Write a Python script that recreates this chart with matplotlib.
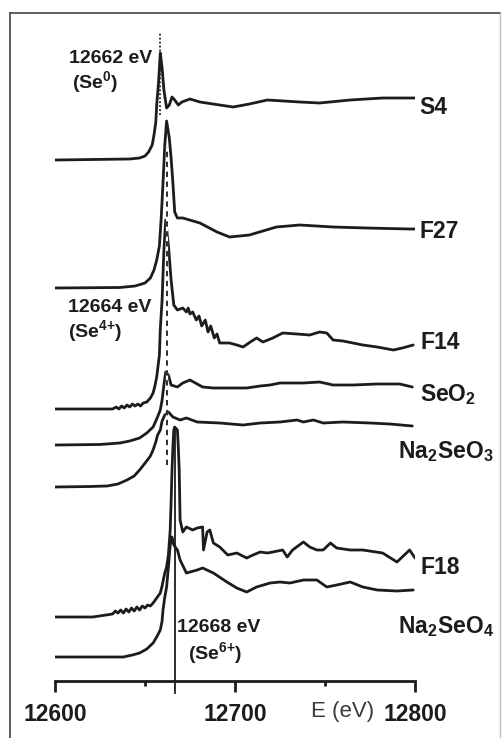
import numpy as np
import matplotlib.pyplot as plt

plt.rcParams['font.family'] = 'Liberation Sans'
plt.rcParams['mathtext.fontset'] = 'custom'
plt.rcParams['mathtext.rm'] = 'Liberation Sans:bold'
plt.rcParams['mathtext.it'] = 'Liberation Sans:bold'
plt.rcParams['mathtext.bf'] = 'Liberation Sans:bold'
plt.rcParams['mathtext.default'] = 'rm'

# Se K-edge XANES spectra, normalised (pre-edge = 0)
s4_e = [12600, 12641.5, 12647, 12650, 12652, 12654, 12655, 12656, 12656.5, 12657.5,
        12658.5, 12659.5, 12660.5, 12662, 12663.5, 12665, 12666.5, 12668.5, 12670.5, 12675,
        12680.5, 12691.5, 12699, 12708, 12718, 12736, 12747, 12764, 12782, 12800]
s4_mu = [0, 0.01, 0.02, 0.04, 0.08, 0.15, 0.25, 0.38, 0.55, 0.77,
         1.07, 0.92, 0.70, 0.52, 0.55, 0.63, 0.60, 0.55, 0.58, 0.61,
         0.58, 0.55, 0.53, 0.56, 0.60, 0.58, 0.57, 0.60, 0.62, 0.62]

f27_e = [12600, 12636, 12644.5, 12650, 12653, 12655, 12656.5, 12658, 12659, 12660,
         12661, 12662, 12663.5, 12664.5, 12665.5, 12666.5, 12668, 12671, 12680.5, 12690,
         12697, 12708, 12723, 12736, 12754.5, 12773, 12797, 12800]
f27_mu = [0, 0.005, 0.02, 0.05, 0.10, 0.18, 0.28, 0.42, 0.70, 1.05,
          1.43, 1.67, 1.50, 1.30, 1.05, 0.76, 0.70, 0.70, 0.65, 0.56,
          0.51, 0.53, 0.61, 0.63, 0.61, 0.60, 0.59, 0.59]

f14_e = [12600, 12632, 12634, 12635.5, 12637, 12638.5, 12640, 12641.5, 12643, 12644.5,
         12646, 12647.5, 12649, 12651, 12653, 12654.5, 12655.5, 12656.5, 12658, 12658.5,
         12659.5, 12660.5, 12661.5, 12663, 12664.5, 12666, 12668, 12671, 12673, 12674,
         12675, 12676.5, 12678.5, 12680, 12681.5, 12683.5, 12685, 12686.5, 12688.5, 12690,
         12691.5, 12697, 12701, 12704.5, 12708.5, 12712, 12715.5, 12721, 12726.5, 12734.5,
         12741.5, 12747, 12751, 12754.5, 12760, 12771, 12779, 12788, 12793, 12799]
f14_mu = [0, 0, 0.02, 0.0, 0.03, 0.01, 0.04, 0.02, 0.05, 0.03,
          0.05, 0.03, 0.06, 0.07, 0.11, 0.16, 0.23, 0.32, 0.54, 0.80,
          1.09, 1.59, 1.89, 1.64, 1.29, 1.04, 0.99, 1.01, 0.97, 1.01,
          0.95, 0.97, 0.89, 0.93, 0.83, 0.89, 0.77, 0.83, 0.71, 0.75,
          0.66, 0.66, 0.64, 0.62, 0.67, 0.71, 0.67, 0.71, 0.76, 0.75,
          0.74, 0.77, 0.76, 0.69, 0.68, 0.64, 0.62, 0.59, 0.61, 0.64]

seo2_e = [12600, 12625, 12636, 12641.5, 12647, 12651, 12654.5, 12656.5, 12658.5, 12659.5,
          12660.5, 12661.5, 12663, 12664.5, 12668, 12671, 12675, 12679, 12682, 12688,
          12695.5, 12706.5, 12714, 12719.5, 12725, 12738, 12747, 12754.5, 12765.5, 12779,
          12791.5, 12798.5]
seo2_mu = [0, 0.005, 0.02, 0.04, 0.07, 0.12, 0.18, 0.26, 0.35, 0.45,
           0.60, 0.73, 0.70, 0.60, 0.58, 0.62, 0.65, 0.61, 0.58, 0.57,
           0.57, 0.57, 0.59, 0.60, 0.62, 0.62, 0.63, 0.60, 0.60, 0.61,
           0.61, 0.58]

na2seo3_e = [12600, 12619.5, 12629, 12635, 12640, 12644, 12647, 12650.5, 12653, 12654.5,
             12656, 12657, 12658.5, 12659.5, 12661, 12663, 12665.5, 12669.5, 12673, 12679,
             12691.5, 12704.5, 12714, 12725, 12734.5, 12738, 12743.5, 12749, 12760, 12775,
             12786, 12798.5]
na2seo3_mu = [0, 0.005, 0.01, 0.03, 0.07, 0.11, 0.17, 0.25, 0.31, 0.37,
              0.45, 0.52, 0.57, 0.66, 0.72, 0.75, 0.70, 0.67, 0.69, 0.65,
              0.64, 0.62, 0.64, 0.65, 0.67, 0.65, 0.67, 0.64, 0.65, 0.64,
              0.63, 0.61]

f18_e = [12600, 12621, 12632, 12633.5, 12635, 12636.5, 12638, 12639.5, 12641, 12642.5,
         12644, 12645.5, 12647, 12648.5, 12650, 12651.5, 12653, 12654.5, 12656.5, 12658.5,
         12659.5, 12660.5, 12661, 12662, 12663, 12664, 12664.5, 12665, 12665.5, 12666,
         12666.5, 12668, 12668.5, 12669, 12669.5, 12671, 12673, 12676.5, 12679, 12682,
         12682.5, 12684.5, 12686, 12688, 12691.5, 12696, 12701, 12706.5, 12710, 12714,
         12718, 12721, 12726.5, 12729, 12732, 12738, 12741.5, 12745.5, 12749, 12753,
         12756.5, 12764, 12771, 12782, 12790, 12797, 12800]
f18_mu = [0, 0, 0.03, 0.06, 0.04, 0.07, 0.04, 0.08, 0.05, 0.09,
          0.06, 0.10, 0.07, 0.11, 0.09, 0.12, 0.11, 0.14, 0.19, 0.24,
          0.31, 0.40, 0.44, 0.50, 0.62, 0.87, 1.15, 1.47, 1.70, 1.87,
          1.90, 1.87, 1.70, 1.47, 0.97, 0.85, 0.90, 0.87, 0.89, 0.90,
          0.67, 0.85, 0.87, 0.74, 0.70, 0.62, 0.64, 0.59, 0.62, 0.65,
          0.64, 0.65, 0.67, 0.60, 0.67, 0.75, 0.70, 0.67, 0.67, 0.74,
          0.69, 0.67, 0.67, 0.64, 0.55, 0.67, 0.59]

na2seo4_e = [12600, 12638, 12643, 12647, 12651, 12654.5, 12656.5, 12658.5, 12659.5, 12660,
             12661, 12662, 12663, 12664, 12665, 12666, 12668, 12669.5, 12673, 12679,
             12682, 12688, 12695.5, 12701, 12706.5, 12712, 12719.5, 12725, 12730.5, 12738,
             12745.5, 12751, 12756.5, 12764, 12771, 12779, 12790, 12799]
na2seo4_mu = [0, 0, 0.02, 0.04, 0.08, 0.14, 0.20, 0.27, 0.36, 0.47,
              0.60, 0.70, 0.90, 1.12, 1.20, 1.12, 1.07, 0.97, 0.84, 0.87,
              0.89, 0.84, 0.75, 0.69, 0.65, 0.70, 0.74, 0.75, 0.74, 0.77,
              0.77, 0.70, 0.72, 0.75, 0.70, 0.67, 0.66, 0.67]

names = ['S4', 'F27', 'F14', 'SeO$_2$', 'Na$_2$SeO$_3$', 'F18', 'Na$_2$SeO$_4$']
energies = [s4_e, f27_e, f14_e, seo2_e, na2seo3_e, f18_e, na2seo4_e]
spectra = [s4_mu, f27_mu, f14_mu, seo2_mu, na2seo3_mu, f18_mu, na2seo4_mu]
offsets = [5.21, 3.93, 2.72, 2.36, 1.94, 0.64, 0.24]

# reference edge positions (as drawn)
se0_e = 12658.5
se4_e = 12662.2
se6_e = 12666.7

W, H = 503, 738
fig = plt.figure(figsize=(W / 100, H / 100), dpi=100)
ax = fig.add_axes([55 / W, (H - 681) / H, 360 / W, 668 / H])

ink = '#1c1c1c'
for e, mu, off in zip(energies, spectra, offsets):
    ax.plot(e, np.array(mu) + off, color=ink, lw=2.0,
            solid_joinstyle='round', solid_capstyle='round')

# edge markers
ax.plot([se0_e, se0_e], [5.66, 6.49], color=ink, lw=1.3, ls=(0, (1, 1.2)), clip_on=False)
ax.plot([se4_e, se4_e], [2.16, 5.34], color='white', lw=1.6, clip_on=False)
ax.plot([se4_e, se4_e], [2.16, 5.34], color=ink, lw=1.3, ls=(0, (3, 2.5)), clip_on=False)
ax.plot([se6_e, se6_e], [-0.12, 2.51], color=ink, lw=1.3, clip_on=False)

# sample names
label_pos = [(12802.5, 5.73), (12802.5, 4.49), (12803, 3.38), (12802.5, 2.86),
             (12790.5, 2.29), (12803, 1.13), (12790.5, 0.54)]
for name, (x, y) in zip(names, label_pos):
    ax.text(x, y, name, fontsize=16.5, fontweight='bold', color=ink,
            ha='left', va='center', clip_on=False)

ann = dict(fontsize=14, fontweight='bold', color=ink, va='center')
ax.text(12653.8, 6.22, '12662 eV', ha='right', **ann)
ax.text(12609.5, 5.99, '(Se$^{0}$)', ha='left', **ann)
ax.text(12653.8, 3.73, '12664 eV', ha='right', **ann)
ax.text(12607.2, 3.50, '(Se$^{4{+}}$)', ha='left', **ann)
ax.text(12667.8, 0.54, '12668 eV', ha='left', **ann)
ax.text(12673.9, 0.28, '(Se$^{6{+}}$)', ha='left', **ann)

ax.set_xlim(12600, 12800)
ax.set_ylim(0, 6.68)
for s in ['top', 'right', 'left']:
    ax.spines[s].set_visible(False)
ax.spines['bottom'].set_linewidth(2.0)
ax.spines['bottom'].set_color(ink)
ax.set_yticks([])
ax.set_xticks([12600, 12700, 12800])
ax.set_xticklabels(['12600', '12700', '12800'], fontsize=16.5, fontweight='bold', color=ink)
ax.set_xticks([12650, 12750], minor=True)
ax.tick_params(axis='x', which='major', direction='out', length=8, width=2.0, pad=8, color=ink)
ax.tick_params(axis='x', which='minor', direction='out', length=3.5, width=2.0, color=ink)
ax.patch.set_alpha(0)

fig.text(343 / W, 1 - 712 / H, 'E (eV)', fontsize=16, color='#3a3a3a',
         ha='center', va='center')

# outer frame of the panel
fig.add_artist(plt.Line2D([10 / W, 10 / W], [0, 1 - 13 / H], transform=fig.transFigure,
                          color='#444444', lw=1.2))
fig.add_artist(plt.Line2D([10 / W, 500 / W], [1 - 13 / H, 1 - 13 / H], transform=fig.transFigure,
                          color='#444444', lw=1.2))
fig.add_artist(plt.Line2D([500 / W, 500 / W], [0, 1 - 13 / H], transform=fig.transFigure,
                          color='#bbbbbb', lw=1.0))

fig.savefig('out.png', dpi=100)
